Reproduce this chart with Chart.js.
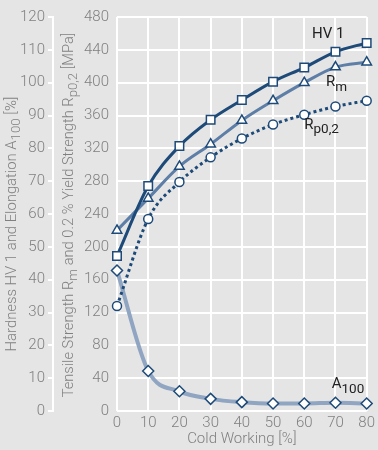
<!DOCTYPE html>
<html>
<head>
<meta charset="utf-8">
<script src="https://cdn.jsdelivr.net/npm/chart.js@4/dist/chart.umd.min.js"></script>
<style>
html, body { margin: 0; padding: 0; background: #e5e5e5; }
#wrap { width: 378px; height: 450px; position: relative; }
</style>
</head>
<body>
<div id="wrap"><canvas id="chart"></canvas></div>
<script>
// Cold working steps [%]
const coldWorking = [0, 10, 20, 30, 40, 50, 60, 70, 80];
// left scale (0-120)
const hardnessHV1 = [47.2, 68.5, 80.7, 88.7, 94.7, 100.3, 104.6, 109.4, 112.1];
const elongationA100 = [42.8, 12.2, 6.0, 3.7, 2.7, 2.3, 2.3, 2.5, 2.3];
// MPa scale (0-480)
const tensileRm = [220, 259, 298, 325, 354, 378, 400, 419, 425];
const yieldRp02 = [128, 234, 279, 309, 332, 349, 361, 371, 378];

const gray = '#808080';
const dark = '#1d4a78';
const FONT = "Roboto, 'Liberation Sans', Arial, sans-serif";
const tickFont = { family: FONT, size: 15, weight: 300 };

function pts(ys) {
    return coldWorking.map((x, i) => ({ x: x, y: ys[i] }));
}

function fontStr(size, weight) {
    return (weight || 'normal') + ' ' + size + 'px ' + FONT;
}

// draw text with subscript parts, e.g. [['R'], ['m', 1]]
// if fitWidth is given the font size is scaled so the whole text is that long
function drawRich(ctx, parts, x, y, size, color, align, weight, fitWidth) {
    ctx.save();
    ctx.fillStyle = color;
    ctx.textBaseline = 'middle';
    ctx.textAlign = 'left';
    const measure = s => {
        let t = 0;
        parts.forEach(p => {
            ctx.font = fontStr(p[1] ? s * 0.9 : s, weight);
            t += ctx.measureText(p[0]).width;
        });
        return t;
    };
    let total = measure(size);
    if (fitWidth) {
        size = size * fitWidth / total;
        total = measure(size);
    }
    let cx = align === 'center' ? x - total / 2 : x;
    parts.forEach(p => {
        ctx.font = fontStr(p[1] ? size * 0.9 : size, weight);
        ctx.fillText(p[0], cx, p[1] ? y + size * 0.3 : y);
        cx += ctx.measureText(p[0]).width;
    });
    ctx.restore();
}

const textPlugin = {
    id: 'texts',
    afterDraw(chart) {
        const ctx = chart.ctx;
        const x = chart.scales.x, yL = chart.scales.yL, yR = chart.scales.yR;
        // rotated axis titles
        ctx.save();
        ctx.translate(12, 224);
        ctx.rotate(-Math.PI / 2);
        drawRich(ctx, [['Hardness HV 1 and Elongation A'], ['100', 1], [' [%]']], 0, 0, 14, gray, 'center', 300, 255);
        ctx.restore();
        ctx.save();
        ctx.translate(69, 215);
        ctx.rotate(-Math.PI / 2);
        drawRich(ctx, [['Tensile Strength R'], ['m', 1], [' and 0.2 % Yield Strength R'], ['p0,2', 1], [' [MPa]']], 0, 0, 14, gray, 'center', 300, 365);
        ctx.restore();
        // series labels
        drawRich(ctx, [['HV 1']], x.getPixelForValue(62.5), yR.getPixelForValue(459), 15, '#222', 'left');
        drawRich(ctx, [['R'], ['m', 1]], x.getPixelForValue(67), yR.getPixelForValue(400), 15, '#222', 'left');
        drawRich(ctx, [['R'], ['p0,2', 1]], x.getPixelForValue(60), yR.getPixelForValue(348), 15, '#222', 'left');
        drawRich(ctx, [['A'], ['100', 1]], x.getPixelForValue(68.8), yL.getPixelForValue(8), 15, '#222', 'left');
    }
};

const markerBase = { pointBackgroundColor: '#fff', pointBorderColor: dark, pointBorderWidth: 1.5, fill: false, cubicInterpolationMode: 'monotone', clip: false };

new Chart(document.getElementById('chart'), {
    type: 'line',
    data: {
        datasets: [
            Object.assign({ label: 'HV 1', data: pts(hardnessHV1), yAxisID: 'yL', borderColor: dark, borderWidth: 3, pointStyle: 'rect', pointRadius: 6 }, markerBase),
            Object.assign({ label: 'Rm', data: pts(tensileRm), yAxisID: 'yR', borderColor: '#5d7ea6', borderWidth: 3, pointStyle: 'triangle', pointRadius: 5.5 }, markerBase),
            Object.assign({ label: 'Rp0,2', data: pts(yieldRp02), yAxisID: 'yR', borderColor: dark, borderWidth: 3, borderDash: [3, 3], pointStyle: 'circle', pointRadius: 4.5 }, markerBase),
            Object.assign({ label: 'A100', data: pts(elongationA100), yAxisID: 'yL', borderColor: '#8fa5c2', borderWidth: 4, pointStyle: 'rectRot', pointRadius: 5.5 }, markerBase)
        ]
    },
    options: {
        responsive: true,
        maintainAspectRatio: false,
        animation: false,
        layout: { padding: { top: 11, right: 9, left: 0, bottom: 0 } },
        plugins: { legend: { display: false }, tooltip: { enabled: false } },
        scales: {
            x: {
                type: 'linear', min: 0, max: 80,
                ticks: { stepSize: 10, color: gray, font: tickFont, padding: 3 },
                grid: { color: '#fff', lineWidth: 2, drawTicks: false },
                border: { display: false },
                title: { display: true, text: 'Cold Working [%]', color: gray, font: tickFont, padding: { top: 0, bottom: 2 } },
                afterFit(s) { s.height = 39; }
            },
            yR: {
                position: 'left', weight: 0, min: 0, max: 480,
                ticks: { stepSize: 40, color: gray, font: tickFont, padding: 8 },
                grid: { color: '#fff', lineWidth: 2, drawTicks: false },
                border: { display: false },
                afterFit(s) { s.width = 64; }
            },
            yL: {
                position: 'left', weight: 1, min: 0, max: 120,
                ticks: { stepSize: 10, color: gray, font: tickFont, padding: 3 },
                grid: { color: '#fff', lineWidth: 2, drawOnChartArea: false, tickLength: 5 },
                border: { display: true, color: '#fff', width: 2 },
                afterFit(s) { s.width = 53; }
            }
        }
    },
    plugins: [textPlugin]
});
</script>
</body>
</html>
